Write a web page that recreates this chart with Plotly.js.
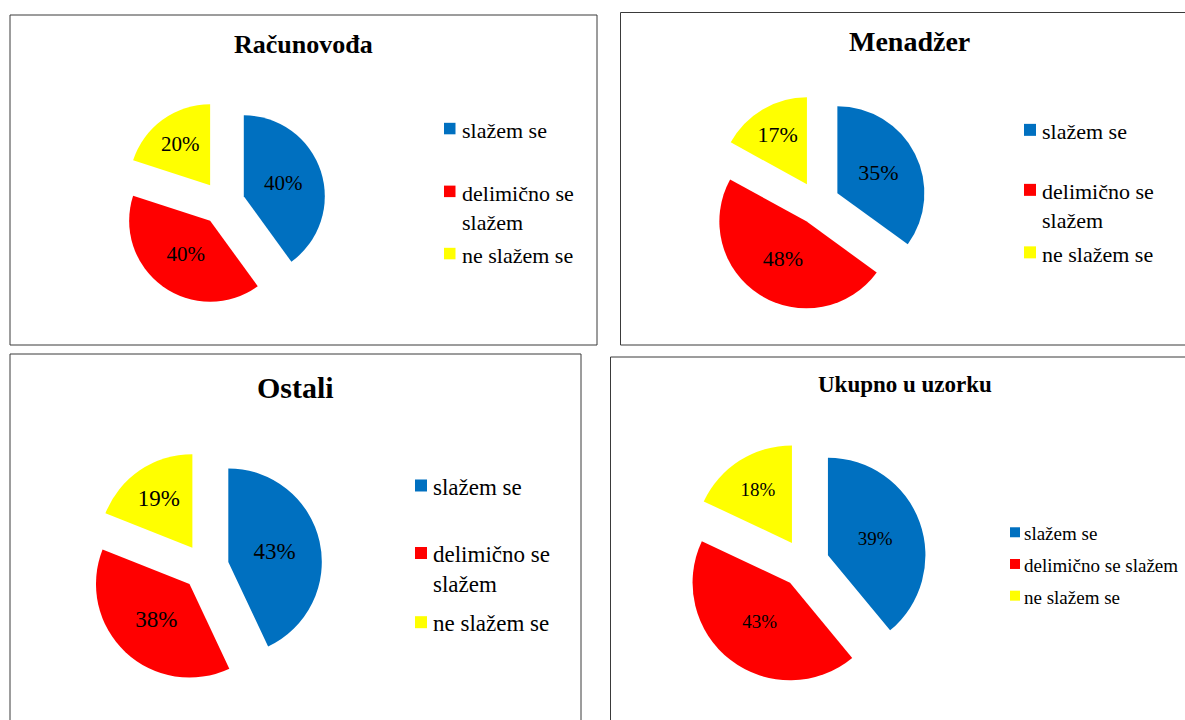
<!DOCTYPE html>
<html>
<head>
<meta charset="utf-8">
<script src="https://cdn.plot.ly/plotly-3.0.1.min.js"></script>
<style>
  html, body { margin: 0; padding: 0; background: #ffffff; }
  #chart { width: 1185px; height: 720px; }
</style>
</head>
<body>
<div id="chart"></div>
<script>
// ---------- data ----------
const labels = ['slažem se', 'delimično se slažem', 'ne slažem se'];
const legendLabelsWrapped = ['slažem se', 'delimično se<br>slažem', 'ne slažem se'];
const colors = ['#0070C0', '#FF0000', '#FFFF00'];
const titles = ['Računovođa', 'Menadžer', 'Ostali', 'Ukupno u uzorku'];
const racunovodjaValues = [40, 40, 20];
const menadzerValues = [35, 48, 17];
const ostaliValues = [43, 38, 19];
const ukupnoValues = [39, 43, 18];

// ---------- layout (pixel positions) ----------
const W = 1185, H = 720;
const FONT = 'Liberation Serif, Times New Roman, serif';
const panels = [
  { values: racunovodjaValues, title: titles[0], box: [10, 15, 597, 345],
    titleX: 303.5, titleBase: 52.5, titleSize: 26,
    pie: { cx: 223, cy: 203, r: 81, pull: 0.27, font: 21 },
    legend: { sqX: 444, sq: 11.5, textX: 460, size: 22, wrap: true, base: [136.7, 199.5, 261.7] } },
  { values: menadzerValues, title: titles[1], box: [620.5, 12.5, 1195, 345],
    titleX: 910, titleBase: 50.3, titleSize: 28,
    pie: { cx: 818, cy: 203, r: 87, pull: 0.25, font: 22 },
    legend: { sqX: 1024, sq: 12, textX: 1040, size: 22, wrap: true, base: [138, 198, 260.5] } },
  { values: ostaliValues, title: titles[2], box: [10, 354, 581, 730],
    titleX: 295, titleBase: 397, titleSize: 30,
    pie: { cx: 205.5, cy: 567, r: 93.5, pull: 0.25, font: 23 },
    legend: { sqX: 415, sq: 12, textX: 431, size: 23, wrap: true, base: [494, 561.5, 630.7] } },
  { values: ukupnoValues, title: titles[3], box: [610.5, 357, 1195, 730],
    titleX: 905, titleBase: 391.5, titleSize: 23,
    pie: { cx: 805, cy: 563.5, r: 97.5, pull: 0.25, font: 19 },
    legend: { sqX: 1010, sq: 10, textX: 1022, size: 19, wrap: false, base: [539.3, 571, 602.7] } }
];

const px = x => x / W;
const py = y => 1 - y / H;

const traces = [];
const shapes = [];
const annotations = [];

panels.forEach(p => {
  const h = p.pie.r * (1 + p.pie.pull);
  traces.push({
    type: 'pie',
    labels: labels,
    values: p.values,
    sort: false,
    direction: 'clockwise',
    rotation: 0,
    pull: p.pie.pull,
    marker: { colors: colors, line: { width: 0 } },
    textinfo: 'percent',
    textposition: 'inside',
    insidetextorientation: 'horizontal',
    insidetextfont: { family: FONT, size: p.pie.font, color: '#000000' },
    hoverinfo: 'label+percent',
    showlegend: false,
    domain: { x: [px(p.pie.cx - h), px(p.pie.cx + h)], y: [py(p.pie.cy + h), py(p.pie.cy - h)] }
  });

  // panel border
  shapes.push({
    type: 'rect', xref: 'paper', yref: 'paper',
    x0: px(p.box[0]), x1: px(p.box[2]), y0: py(p.box[3]), y1: py(p.box[1]),
    line: { color: '#3a3a3a', width: 1 }, fillcolor: 'rgba(0,0,0,0)', layer: 'below'
  });

  // title
  annotations.push({
    xref: 'paper', yref: 'paper', showarrow: false,
    x: px(p.titleX), xanchor: 'center',
    y: py(p.titleBase - 0.891 * p.titleSize - 1), yanchor: 'top',
    text: p.title,
    font: { family: FONT, size: p.titleSize, color: '#000000', weight: 700 }
  });

  // legend
  const L = p.legend;
  labels.forEach((lab, i) => {
    const cy = L.base[i] - 0.37 * L.size;
    shapes.push({
      type: 'rect', xref: 'paper', yref: 'paper',
      x0: px(L.sqX), x1: px(L.sqX + L.sq),
      y0: py(cy + L.sq / 2), y1: py(cy - L.sq / 2),
      line: { width: 0 }, fillcolor: colors[i]
    });
    annotations.push({
      xref: 'paper', yref: 'paper', showarrow: false,
      x: px(L.textX), xanchor: 'left',
      y: py(L.base[i] - 0.891 * L.size - 1), yanchor: 'top',
      align: 'left',
      text: L.wrap ? legendLabelsWrapped[i] : lab,
      font: { family: FONT, size: L.size, color: '#000000' }
    });
  });
});

const layout = {
  width: W, height: H,
  margin: { l: 0, r: 0, t: 0, b: 0 },
  paper_bgcolor: '#ffffff',
  plot_bgcolor: '#ffffff',
  showlegend: false,
  shapes: shapes,
  annotations: annotations
};

Plotly.newPlot('chart', traces, layout, { displayModeBar: false, staticPlot: true });
</script>
</body>
</html>
